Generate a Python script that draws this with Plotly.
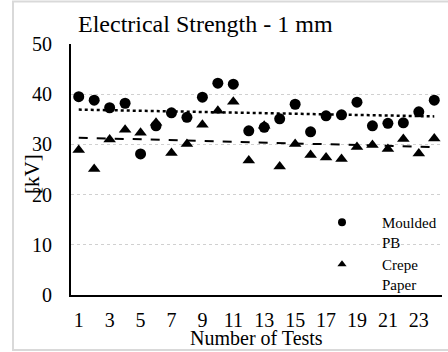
import numpy as np
import plotly.graph_objects as go

tests = list(range(1, 25))
moulded_pb = [39.5, 38.8, 37.3, 38.2, 28.1, 33.7, 36.3, 35.4, 39.4, 42.2, 42.0, 32.7,
              33.4, 35.1, 38.0, 32.5, 35.7, 35.9, 38.4, 33.7, 34.2, 34.3, 36.5, 38.8]
crepe_paper = [28.9, 25.1, 31.0, 32.9, 32.3, 34.3, 28.3, 30.1, 33.9, 36.7, 38.5, 26.8,
               33.7, 25.6, 30.1, 27.9, 27.4, 27.1, 29.5, 29.9, 29.1, 31.1, 28.2, 31.2]
x_ticks = list(range(1, 24, 2))
y_ticks = [0, 10, 20, 30, 40, 50]

W, H = 448, 352
ML, MR, MT, MB = 71, 6, 44, 57
PW, PH = W - ML - MR, H - MT - MB


def px_x(p):
    return (p - ML) / PW


def px_y(p):
    return (H - MB - p) / PH


FONT = "Liberation Serif, Times New Roman, DejaVu Serif, serif"

x = np.array(tests, dtype=float)
fit_m = np.polyfit(x, moulded_pb, 1)
fit_c = np.polyfit(x, crepe_paper, 1)
xs = np.array([tests[0], tests[-1]], dtype=float)

fig = go.Figure()
fig.add_trace(go.Scatter(x=tests, y=moulded_pb, mode="markers", showlegend=False,
                         marker=dict(symbol="circle", size=11, color="black")))
fig.add_trace(go.Scatter(x=tests, y=crepe_paper, mode="markers", showlegend=False,
                         marker=dict(symbol="triangle-up", size=11, color="black")))
fig.add_trace(go.Scatter(x=xs, y=np.polyval(fit_m, xs), mode="lines", showlegend=False,
                         line=dict(color="black", width=2.5, dash="dot")))
fig.add_trace(go.Scatter(x=xs, y=np.polyval(fit_c, xs), mode="lines", showlegend=False,
                         line=dict(color="black", width=2, dash="dash")))
# legend entries
fig.add_trace(go.Scatter(x=[None], y=[None], mode="markers", name="Moulded<br>PB",
                         marker=dict(symbol="circle", size=8, color="black")))
fig.add_trace(go.Scatter(x=[None], y=[None], mode="markers", name="Crepe<br>Paper",
                         marker=dict(symbol="triangle-up", size=8, color="black")))

fig.update_layout(
    width=W, height=H,
    margin=dict(l=ML, r=MR, t=MT, b=MB),
    paper_bgcolor="white", plot_bgcolor="white",
    font=dict(family=FONT, size=20, color="black"),
    showlegend=True,
    legend=dict(x=px_x(302), y=px_y(206), xanchor="left", yanchor="top",
                font=dict(family=FONT, size=15), valign="top", itemwidth=70,
                bgcolor="rgba(0,0,0,0)", tracegroupgap=0),
    xaxis=dict(range=[0.5, 24.5], tickvals=x_ticks, showgrid=False, zeroline=False,
               showline=True, linecolor="black", linewidth=2, ticks="",
               ticklabelstandoff=6, tickfont=dict(family=FONT, size=20)),
    yaxis=dict(range=[0, 50], tickvals=y_ticks, showgrid=True, gridcolor="#d0d0d0",
               griddash="dot", gridwidth=1, zeroline=False,
               showline=True, linecolor="black", linewidth=2, ticks="",
               ticklabelstandoff=13, tickfont=dict(family=FONT, size=20)),
    shapes=[dict(type="rect", xref="paper", yref="paper",
                 x0=px_x(13), x1=px_x(452), y0=px_y(350), y1=px_y(1.5),
                 line=dict(color="#d9d9d9", width=2), fillcolor="rgba(0,0,0,0)",
                 layer="below")],
    annotations=[
        dict(text="Electrical Strength - 1 mm", xref="paper", yref="paper",
             x=px_x(76), y=px_y(9), xanchor="left", yanchor="top", showarrow=False,
             font=dict(family=FONT, size=24)),
        dict(text="Number of Tests", xref="paper", yref="paper",
             x=0.5, y=px_y(351), xanchor="center", yanchor="bottom", showarrow=False,
             font=dict(family=FONT, size=20)),
        dict(text="[kV]", xref="paper", yref="paper", textangle=-90,
             x=px_x(32), y=px_y(174), xanchor="center", yanchor="middle", showarrow=False,
             font=dict(family=FONT, size=21)),
    ],
)

fig.write_html("out.html")
